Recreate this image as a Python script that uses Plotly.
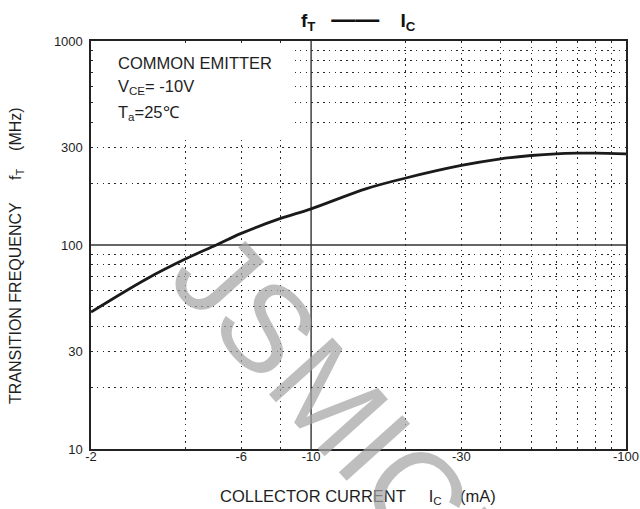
import math
import plotly.graph_objects as go

# ---- data ----
ic_ma = [2, 3, 4, 5, 6, 8, 10, 15, 20, 30, 40, 50, 60, 70, 80, 100]          # |Ic| in mA
ft_mhz = [46.9, 68.2, 85.6, 100, 114, 135, 150.4, 189, 213, 245.4, 264.5, 274.6, 280, 281.8, 282, 280]

x_tickvals = [2, 6, 10, 30, 100]
x_ticktext = ["-2", "-6", "-10", "-30", "-100"]
y_tickvals = [10, 30, 100, 300, 1000]
y_ticktext = ["10", "30", "100", "300", "1000"]
x_minor = [4, 6, 8, 20, 30, 40, 50, 60, 70, 80, 90]
y_minor = [20, 30, 40, 50, 60, 70, 80, 90, 200, 300, 400, 500, 600, 700, 800, 900]
x_major_line = [10, 10]
y_major_line = [100, 100]
x_full = [2, 100]
y_full = [10, 1000]

# ---- layout geometry (pixels) ----
W, H = 640, 509
L, R, T, B = 91, 626, 41, 449
PW, PH = R - L, B - T


def px(p):
    return (p - L) / PW


def py(p):
    return (B - p) / PH


FONT = "Liberation Sans, Arial, Helvetica, sans-serif"
INK = "#1e1e1e"

fig = go.Figure()

# solid inner lines (x = 10 and y = 100)
fig.add_trace(go.Scatter(x=x_major_line, y=y_full, mode="lines",
                         line=dict(color="#333333", width=1.4), hoverinfo="skip", showlegend=False))
fig.add_trace(go.Scatter(x=x_full, y=y_major_line, mode="lines",
                         line=dict(color="#333333", width=1.4), hoverinfo="skip", showlegend=False))

# the characteristic curve
fig.add_trace(go.Scatter(x=ic_ma, y=ft_mhz, mode="lines",
                         line=dict(color="#1a1a1a", width=2.8, shape="spline", smoothing=1.0),
                         hoverinfo="skip", showlegend=False))

dot = "1.6px,4.2px"
fig.update_xaxes(
    type="log", range=[math.log10(2), 2], automargin=False,
    tickmode="array", tickvals=x_tickvals, ticktext=x_ticktext,
    showgrid=False, zeroline=False,
    showline=True, linecolor="#222222", linewidth=1.6, mirror=True,
    ticks="", ticklabelstandoff=-5,
    tickfont=dict(family=FONT, size=13, color=INK),
    minor=dict(tickmode="array", tickvals=x_minor, showgrid=True,
               gridcolor="#2a2a2a", gridwidth=1, griddash=dot, ticks=""),
)
fig.update_yaxes(
    type="log", range=[1, 3], automargin=False,
    tickmode="array", tickvals=y_tickvals, ticktext=y_ticktext,
    showgrid=False, zeroline=False,
    showline=True, linecolor="#222222", linewidth=1.6, mirror=True,
    ticks="", ticklabelstandoff=4,
    tickfont=dict(family=FONT, size=13, color=INK),
    minor=dict(tickmode="array", tickvals=y_minor, showgrid=True,
               gridcolor="#2a2a2a", gridwidth=1, griddash=dot, ticks=""),
)

# white area behind the condition text (grid interrupted there)
fig.add_shape(type="rect", xref="paper", yref="paper",
              x0=px(96), x1=px(295), y0=py(136), y1=py(47),
              fillcolor="white", line=dict(width=0), layer="above")

nb = "\u00a0"
annotations = [
    # title
    dict(text="<b>f<sub>T</sub>" + nb * 3 + "<span style='font-size:24px'>——</span>" + nb * 4 + "I<sub>C</sub></b>",
         x=px(358), y=py(20), xanchor="center", yanchor="middle",
         font=dict(family=FONT, size=19, color="#111111")),
    # conditions
    dict(text="COMMON EMITTER", x=px(116), y=py(63), xanchor="left", yanchor="middle",
         font=dict(family=FONT, size=16.5, color=INK)),
    dict(text="V<sub>CE</sub>= -10V", x=px(116), y=py(87), xanchor="left", yanchor="middle",
         font=dict(family=FONT, size=16.5, color=INK)),
    dict(text="T<sub>a</sub>=25\u2103", x=px(116), y=py(113), xanchor="left", yanchor="middle",
         font=dict(family=FONT, size=16.5, color=INK)),
    # axis titles
    dict(text="COLLECTOR CURRENT" + nb * 5 + "I<sub>C</sub>" + nb * 4 + "(mA)",
         x=px(358), y=py(497), xanchor="center", yanchor="middle",
         font=dict(family=FONT, size=16.5, color=INK)),
    dict(text="TRANSITION FREQUENCY" + nb * 5 + "f<sub>T</sub>" + nb * 4 + "(MHz)",
         x=px(16), y=py(256), xanchor="center", yanchor="middle", textangle=-90,
         font=dict(family=FONT, size=16, color=INK)),
    # watermark
    dict(text="JSMICRO", x=px(384), y=py(458), xanchor="center", yanchor="middle",
         textangle=48, font=dict(family=FONT, size=124, color="rgba(165,165,165,0.72)")),
]
for a in annotations:
    a.update(xref="paper", yref="paper", showarrow=False)

fig.update_layout(
    width=W, height=H,
    margin=dict(l=L, r=W - R, t=T, b=H - B, pad=0, autoexpand=False),
    paper_bgcolor="white", plot_bgcolor="white",
    annotations=annotations,
    showlegend=False,
)

fig.write_html("out.html", config={"displayModeBar": False, "staticPlot": True},
               post_script="document.body.style.margin='0px';document.body.style.padding='0px';")
